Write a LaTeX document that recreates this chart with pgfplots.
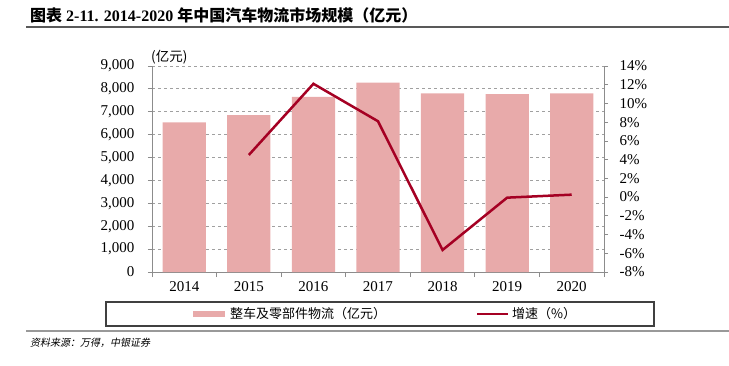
\documentclass[border=0pt]{standalone}
\usepackage{fontspec}
\setmainfont{Liberation Serif}
\newfontfamily\cjk{Noto Sans CJK SC}
\newfontfamily\cjkit{Noto Sans CJK SC}[FakeSlant=0.2]
\usepackage{pgfplots}
\pgfplotsset{compat=1.18}
\definecolor{barpink}{RGB}{232,170,170}
\definecolor{linered}{RGB}{165,0,35}
\definecolor{axgray}{RGB}{140,140,140}
\definecolor{gridgray}{RGB}{160,160,160}
\begin{document}
\begin{tikzpicture}[x=1pt,y=1pt]
\useasboundingbox (0,0) rectangle (729,365);
% title
\node[anchor=west,inner sep=0] at (30,350) {\fontsize{16}{19}\selectfont\bfseries{\cjk 图表} 2-11. 2014-2020 {\cjk 年中国汽车物流市场规模（亿元）}};
\draw[line width=1.5pt,color=black!65] (26,338) -- (729,338);
% unit label
\node[anchor=south west,inner sep=0] at (151,301) {\fontsize{13.5}{15}\selectfont\cjk (亿元)};
\begin{axis}[
  at={(152pt,93pt)}, anchor=south west,
  scale only axis, width=452pt, height=206pt,
  xmin=-0.5, xmax=6.5, ymin=0, ymax=9000,
  axis x line*=bottom, axis y line*=left,
  axis line style={draw=axgray,line width=0.8pt,-},
  xtick={0,...,6},
  xticklabels={2014,2015,2016,2017,2018,2019,2020},
  minor xtick={-0.5,0.5,...,6.5},
  major x tick style={draw=none},
  minor x tick style={draw=axgray,line width=0.8pt},
  minor tick length=5pt,
  major tick length=4pt,
  tick align=outside,
  ytick={0,1000,...,9000},
  y tick style={draw=axgray,line width=0.8pt},
  ymajorgrids,
  grid style={dashed,draw=gridgray,line width=0.8pt},
  /pgf/number format/assume math mode=true,
  /pgf/number format/1000 sep={,},
  ticklabel style={font=\fontsize{15}{18}\selectfont},
  xticklabel style={yshift=-2pt},
  yticklabel style={xshift=-10pt},
]
\addplot[ybar, bar width=0.67, fill=barpink, draw=none] coordinates {
(0,6540) (1,6850) (2,7650) (3,8270) (4,7800) (5,7770) (6,7800)};
\end{axis}
\begin{axis}[
  at={(152pt,93pt)}, anchor=south west,
  scale only axis, width=452pt, height=206pt,
  xmin=-0.5, xmax=6.5, ymin=-8, ymax=14,
  axis y line*=right, axis x line=none,
  axis line style={draw=axgray,line width=0.8pt,-},
  ytick={-8,-6,...,14},
  y tick style={draw=axgray,line width=0.8pt},
  tick align=outside, major tick length=4pt,
  /pgf/number format/assume math mode=true,
  yticklabel={\pgfmathprintnumber{\tick}\%},
  ticklabel style={font=\fontsize{15}{18}\selectfont},
  yticklabel style={xshift=8pt},
]
\addplot[color=linered, line width=2.5pt, mark=none] coordinates {
(1,4.5) (2,12.1) (3,8.1) (4,-5.65) (5,-0.06) (6,0.26)};
\end{axis}
% legend
\draw[line width=1.2pt,color=black!75] (106,39) rectangle (654,63);
\fill[barpink] (193,48) rectangle (225,54);
\node[anchor=west,inner sep=0] at (230,51) {\fontsize{13}{15}\selectfont\cjk 整车及零部件物流（亿元）};
\draw[linered,line width=2.5pt] (477,51) -- (508,51);
\node[anchor=west,inner sep=0] at (512,51) {\fontsize{13}{15}\selectfont\cjk 增速（\%）};
% source
\draw[line width=2.5pt,color=black!40] (26,34) -- (729,34);
\node[anchor=west,inner sep=0] at (30,22) {\fontsize{10}{12}\selectfont\cjkit 资料来源：万得，中银证券};
\end{tikzpicture}
\end{document}
